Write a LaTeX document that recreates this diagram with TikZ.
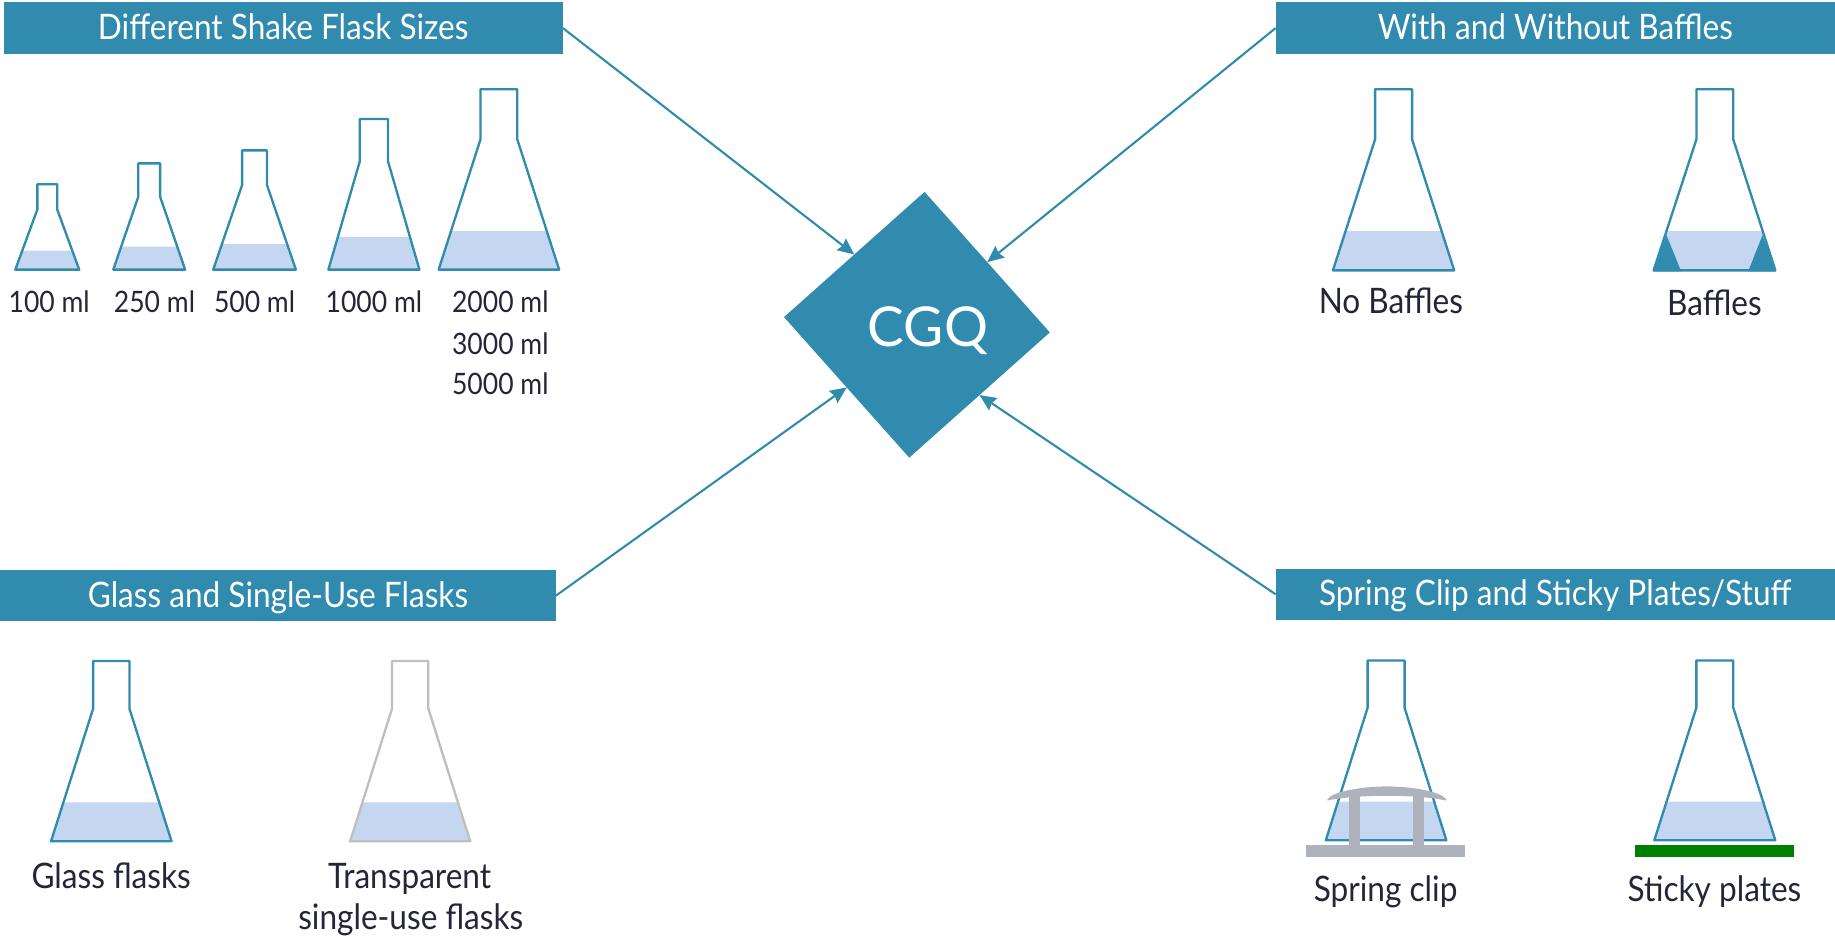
\documentclass[tikz,border=0pt]{standalone}
\usepackage{fontspec}
\setmainfont{Lato}[FakeStretch=0.9]
\newfontfamily\widefont{Lato}
\usetikzlibrary{arrows.meta,shapes.geometric}
\definecolor{teal1}{HTML}{308BAF}
\definecolor{liquid}{HTML}{C5D7F0}
\definecolor{ink}{HTML}{25253A}
\definecolor{clipgrey}{HTML}{AEB2BD}
\definecolor{flaskgrey}{HTML}{BFBFBF}
\definecolor{stickygreen}{HTML}{008000}
\newcommand\flaskshape[8]{%
  % cx base hwBase hwNeck top shoulder liquidTop colour
  \pgfmathsetmacro\lhw{#3-(#3-#4)*(#2-#7)/(#2-#6)}
  \fill[liquid] ({#1-\lhw},#7) -- ({#1+\lhw},#7) -- ({#1+#3},#2) -- ({#1-#3},#2) -- cycle;
  \draw[flaskline,draw=#8] ({#1-#4},#5) -- ({#1+#4},#5) -- ({#1+#4},{#6-2.5}) -- ({#1+#4},#6) -- ({#1+#3},#2) -- ({#1-#3},#2) -- ({#1-#4},#6) -- cycle;
}
\tikzset{
  x=1pt,y=-1pt,
  flaskline/.style={line width=2pt,line join=round},
  header/.style={fill=teal1,text=white,inner sep=0pt,outer sep=0pt,minimum width=478pt,minimum height=44pt,text height=32pt,text depth=12pt,font=\fontsize{30}{34}\selectfont},
  smalllabel/.style={anchor=base,text=ink,inner sep=0pt,font=\fontsize{25.2}{29}\selectfont},
  biglabel/.style={anchor=base,text=ink,inner sep=0pt,font=\fontsize{30}{34}\selectfont},
  link/.style={draw=teal1,line width=1.8pt,-{Stealth[length=14pt,width=12.5pt,inset=1.5pt]}},
}
\begin{document}
\begin{tikzpicture}
\useasboundingbox (0,0) rectangle (1568,803.2);
% headers
\node[header] (h1) at (242,24) {Different Shake Flask Sizes};
\node[header] (h2) at (1329,24) {With and Without Baffles};
\node[header,minimum width=475pt] (h3) at (237.5,509) {Glass and Single-Use Flasks};
\node[header] (h4) at (1329,507.8) {Spring Clip and Sticky Plates/Stuff};
% central diamond
\node[shape=diamond,shape aspect=1,fill=teal1,inner sep=0pt,outer sep=0pt,minimum width=227.5pt,minimum height=227.5pt,rotate=-3.3] (dia) at (783.5,277.5) {};
\node[anchor=base,text=white,inner sep=0pt,font=\widefont\fontsize{47}{50}\selectfont] (cgq) at (793,296) {CGQ};
% connectors
\draw[link] (h1.east) -- (dia.135);
\draw[link] (h2.west) -- (dia.45);
\draw[link] (h3.east) -- (dia.225);
\draw[link] (h4.west) -- (dia.-45);
% size flasks
\flaskshape{40.4}{230.4}{27.3}{8.5}{157.5}{179}{214.2}{teal1}
\flaskshape{127.5}{230.4}{30.7}{9.3}{139.6}{168}{210.8}{teal1}
\flaskshape{217.5}{230.4}{35.3}{10.6}{128.5}{158}{208.5}{teal1}
\flaskshape{319.5}{230.4}{38.9}{12.1}{101.7}{138}{202.5}{teal1}
\flaskshape{426.3}{230.4}{51.5}{15.7}{76.3}{119}{197.4}{teal1}
\node[smalllabel] (l100) at (42,267) {100 ml};
\node[smalllabel] (l250) at (132,267) {250 ml};
\node[smalllabel] (l500) at (217.5,267) {500 ml};
\node[smalllabel] (l1000) at (319.5,267) {1000 ml};
\node[smalllabel] (l2000) at (427.5,267) {2000 ml};
\node[smalllabel] (l3000) at (427.5,302.5) {3000 ml};
\node[smalllabel] (l5000) at (427.5,337) {5000 ml};
% baffles
\flaskshape{1190.8}{231}{51.8}{15.8}{76.3}{119}{197.4}{teal1}
\node[biglabel] (lnb) at (1188.5,268) {No Baffles};
\fill[liquid] (1424,197.4) -- (1506,197.4) -- (1508,201) -- (1494.4,230) -- (1436,230) -- (1422,201) -- cycle;
\draw[flaskline,draw=teal1] (1449.6,76.3) -- (1481,76.3) -- (1481,119) -- (1517,231) -- (1413,231) -- (1449.6,119) -- cycle;
\fill[teal1] (1412.5,231.8) -- (1424,201) -- (1436.5,231.8) -- cycle;
\fill[teal1] (1517.5,231.8) -- (1506,201) -- (1493.8,231.8) -- cycle;
\node[biglabel] (lb) at (1465,270) {Baffles};
% glass and single use
\flaskshape{95.1}{718.9}{51.5}{15.5}{564.8}{605.5}{685.6}{teal1}
\flaskshape{350.5}{718.9}{51.3}{15.5}{564.8}{605.5}{685.6}{flaskgrey}
\node[biglabel] (lg) at (95,759.5) {Glass flasks};
\node[biglabel] (lt1) at (350,759.5) {Transparent};
\node[biglabel] (lt2) at (351,794) {single-use flasks};
% spring clip
\flaskshape{1184.4}{718}{51.5}{15.8}{564.4}{604.8}{685}{teal1}
\fill[clipgrey] (1115.9,722.3) rectangle (1251.6,732);
\fill[clipgrey] (1152.5,678) rectangle (1162.3,723);
\fill[clipgrey] (1207.4,678) rectangle (1217.1,723);
\filldraw[clipgrey,line width=1pt,line join=round] (1134.5,683.5) .. controls (1139,676.5) and (1165,672.5) .. (1185,672.5) .. controls (1205,672.5) and (1231,676.5) .. (1235.5,683.5) .. controls (1225,681) and (1205,679.5) .. (1185,679.5) .. controls (1165,679.5) and (1145,681) .. (1134.5,683.5) -- cycle;
\node[biglabel] (ls) at (1184,770.5) {Spring clip};
% sticky plate
\flaskshape{1465.3}{718}{51.7}{15.8}{564.4}{604.8}{685}{teal1}
\fill[stickygreen] (1396.7,722.3) rectangle (1532.7,732);
\node[biglabel] (lp) at (1465,770.5) {Sticky plates};
\end{tikzpicture}
\end{document}
